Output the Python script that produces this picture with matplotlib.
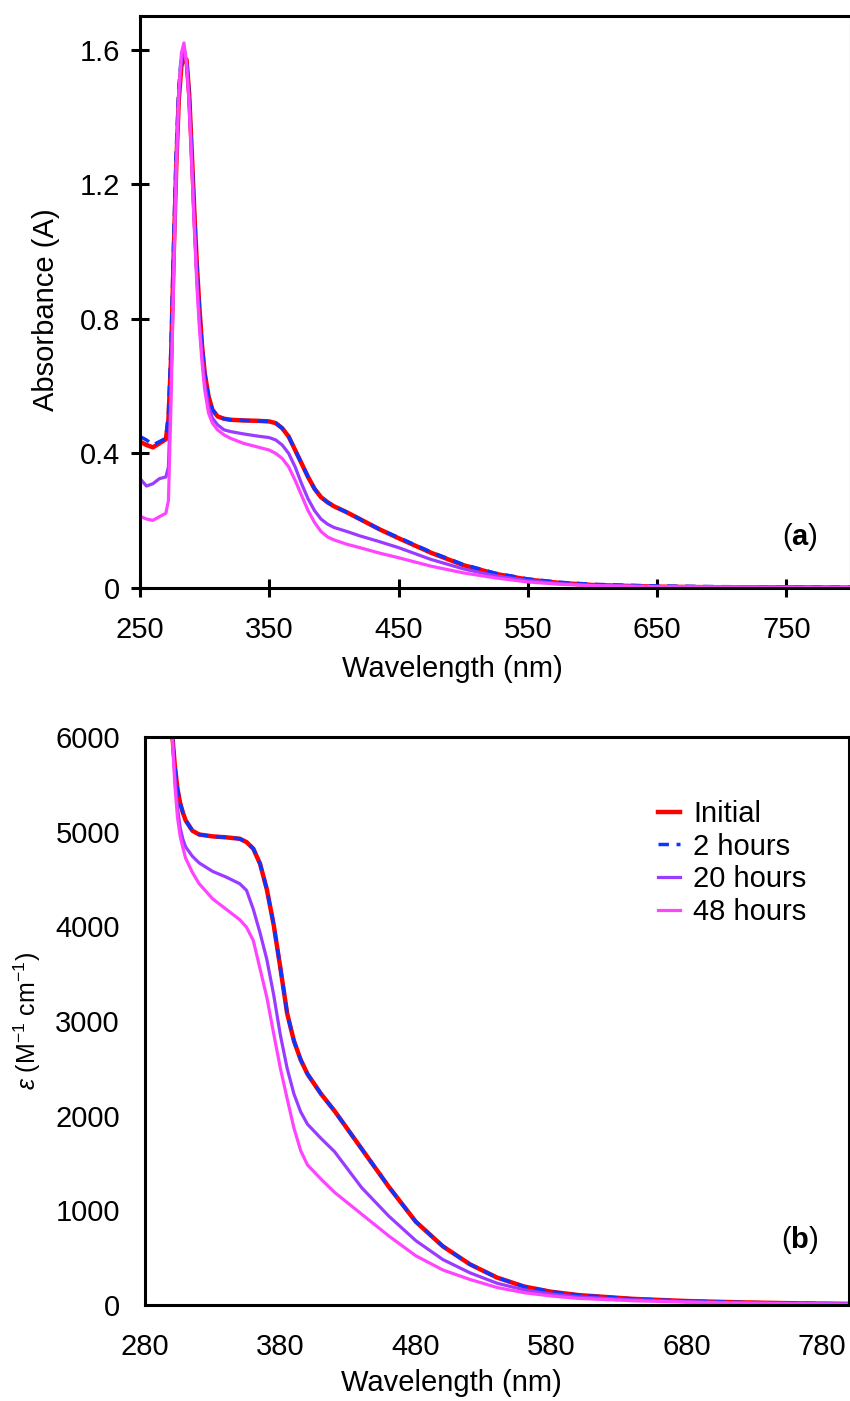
import matplotlib
matplotlib.use("Agg")
import matplotlib.pyplot as plt

plt.rcParams['font.family'] = ['Liberation Sans', 'DejaVu Sans']
plt.rcParams['mathtext.fontset'] = 'custom'
plt.rcParams['mathtext.rm'] = 'Liberation Sans'
plt.rcParams['mathtext.it'] = 'Liberation Sans:italic'
plt.rcParams['mathtext.bf'] = 'Liberation Sans:bold'

# ---------------- (a) absorbance spectra ----------------
wl_a = [250, 255, 260, 265, 270, 272, 274, 276, 278, 280, 282, 284, 286, 288,
        290, 292, 294, 296, 298, 300, 303, 306, 310, 315, 320, 330, 340, 350,
        355, 360, 365, 370, 375, 380, 385, 390, 395, 400, 410, 420, 435, 450,
        475, 500, 525, 550, 575, 600, 650, 700, 750, 800]

abs_initial = [0.435, 0.425, 0.418, 0.430, 0.442, 0.50, 0.68, 0.98, 1.25, 1.45,
               1.55, 1.58, 1.57, 1.47, 1.30, 1.12, 0.96, 0.83, 0.72, 0.64,
               0.57, 0.53, 0.51, 0.503, 0.500, 0.498, 0.497, 0.495, 0.490,
               0.475, 0.450, 0.410, 0.370, 0.330, 0.295, 0.270, 0.255, 0.243,
               0.225, 0.205, 0.175, 0.148, 0.105, 0.068, 0.042, 0.025, 0.015,
               0.009, 0.004, 0.002, 0.002, 0.001]

abs_2h = [0.450, 0.440, 0.425, 0.435, 0.445, 0.52, 0.72, 1.03, 1.30, 1.49,
          1.58, 1.60, 1.57, 1.47, 1.30, 1.12, 0.96, 0.83, 0.72, 0.64,
          0.57, 0.53, 0.51, 0.503, 0.500, 0.498, 0.497, 0.495, 0.490,
          0.475, 0.450, 0.410, 0.370, 0.330, 0.295, 0.270, 0.255, 0.243,
          0.225, 0.205, 0.175, 0.150, 0.107, 0.070, 0.044, 0.027, 0.017,
          0.011, 0.006, 0.004, 0.003, 0.003]

abs_20h = [0.325, 0.303, 0.310, 0.325, 0.330, 0.36, 0.60, 0.95, 1.25, 1.46,
           1.57, 1.60, 1.56, 1.45, 1.28, 1.09, 0.92, 0.79, 0.69, 0.61,
           0.54, 0.505, 0.485, 0.470, 0.465, 0.458, 0.452, 0.447, 0.440,
           0.425, 0.400, 0.360, 0.310, 0.265, 0.230, 0.205, 0.190, 0.180,
           0.168, 0.155, 0.138, 0.120, 0.085, 0.057, 0.036, 0.022, 0.013,
           0.008, 0.004, 0.003, 0.002, 0.002]

abs_48h = [0.213, 0.205, 0.201, 0.212, 0.222, 0.26, 0.55, 0.92, 1.24, 1.47,
           1.59, 1.62, 1.56, 1.44, 1.26, 1.07, 0.90, 0.77, 0.67, 0.59,
           0.52, 0.49, 0.47, 0.455, 0.445, 0.430, 0.420, 0.410, 0.400,
           0.385, 0.360, 0.320, 0.275, 0.230, 0.195, 0.168, 0.152, 0.143,
           0.130, 0.120, 0.104, 0.090, 0.065, 0.045, 0.030, 0.018, 0.011,
           0.007, 0.004, 0.003, 0.002, 0.002]

# ---------------- (b) molar absorptivity ----------------
wl_b = [300, 302, 304, 306, 308, 310, 315, 320, 330, 340, 350, 355, 360, 365,
        370, 375, 380, 385, 390, 395, 400, 410, 420, 440, 460, 480, 500, 520,
        540, 560, 580, 600, 640, 680, 720, 760, 800]

eps_initial = [6050, 5700, 5450, 5300, 5200, 5120, 5010, 4970, 4950, 4940,
               4925, 4890, 4820, 4660, 4390, 4020, 3560, 3080, 2790, 2590,
               2440, 2230, 2050, 1650, 1250, 880, 620, 430, 290, 195, 140,
               105, 65, 42, 28, 18, 12]

eps_2h = [6050, 5700, 5450, 5300, 5200, 5120, 5010, 4970, 4950, 4940,
          4925, 4890, 4820, 4660, 4390, 4020, 3560, 3080, 2790, 2590,
          2440, 2230, 2050, 1650, 1250, 880, 620, 430, 290, 195, 140,
          105, 65, 42, 28, 18, 12]

eps_20h = [6050, 5600, 5250, 5040, 4920, 4840, 4740, 4670, 4580, 4520,
           4450, 4380, 4180, 3930, 3650, 3280, 2850, 2500, 2230, 2040,
           1910, 1760, 1620, 1240, 940, 680, 480, 340, 230, 160, 115,
           85, 55, 35, 24, 16, 10]

eps_48h = [6050, 5500, 5150, 4950, 4830, 4720, 4570, 4450, 4290, 4180,
           4070, 3990, 3850, 3550, 3250, 2870, 2500, 2180, 1870, 1630,
           1480, 1330, 1190, 960, 730, 520, 370, 270, 185, 130, 95,
           70, 45, 30, 20, 14, 9]

labels = ['Initial', '2 hours', '20 hours', '48 hours']
colors = ['#FF0000', '#0A36FF', '#9B3BFF', '#FF44FF']

xticks_a = [250, 350, 450, 550, 650, 750]
yticks_a = [0, 0.4, 0.8, 1.2, 1.6]
yticklabels_a = ['0', '0.4', '0.8', '1.2', '1.6']
xticks_b = [280, 380, 480, 580, 680, 780]
yticks_b = [0, 1000, 2000, 3000, 4000, 5000, 6000]

FS = 21
W, H = 850, 1401
fig = plt.figure(figsize=(W / 100, H / 100), dpi=100)

ax_a = fig.add_axes([140 / W, 1 - 588 / H, 711 / W, 572 / H])
ax_b = fig.add_axes([145 / W, 1 - 1305 / H, 704 / W, 568 / H])


def draw_series(ax, x, series):
    widths = [3.2, 2.5, 2.3, 2.3]
    for y, lab, col, lw in zip(series, labels, colors, widths):
        if lab == '2 hours':
            ax.plot(x, y, color=col, lw=lw, ls=(0, (3.0, 2.2)), label=lab,
                    dash_capstyle='butt')
        else:
            ax.plot(x, y, color=col, lw=lw, label=lab)


draw_series(ax_a, wl_a, [abs_initial, abs_2h, abs_20h, abs_48h])
draw_series(ax_b, wl_b, [eps_initial, eps_2h, eps_20h, eps_48h])

# panel (a) axes
ax_a.set_xlim(250, 800)
ax_a.set_ylim(0, 1.7)
ax_a.set_xticks(xticks_a)
ax_a.set_yticks(yticks_a)
ax_a.set_yticklabels(yticklabels_a)
ax_a.tick_params(axis='both', direction='inout', length=13, width=2.2,
                 labelsize=FS)
ax_a.tick_params(axis='x', pad=14)
ax_a.tick_params(axis='y', pad=8)
ax_a.set_xlabel('Wavelength (nm)', fontsize=FS)
ax_a.set_ylabel('Absorbance (A)', fontsize=FS)
ax_a.xaxis.set_label_coords((452 - 140) / 711, -0.117)
ax_a.yaxis.set_label_coords(-0.113, 0.486)
ax_a.text(0.928, 0.09, r'($\mathbf{a}$)', transform=ax_a.transAxes,
          fontsize=FS, ha='center', va='center')

# panel (b) axes
ax_b.set_xlim(280, 800)
ax_b.set_ylim(0, 6000)
ax_b.set_xticks(xticks_b)
ax_b.set_yticks(yticks_b)
ax_b.tick_params(axis='both', length=0, labelsize=FS)
ax_b.tick_params(axis='y', pad=18)
ax_b.tick_params(axis='x', pad=20)
ax_b.set_xlabel('Wavelength (nm)', fontsize=FS)
ax_b.set_ylabel(r'$\mathit{ε}$ (M$^{-1}$ cm$^{-1}$)', fontsize=18)
ax_b.xaxis.set_label_coords((451 - 145) / 704, -0.113)
ax_b.yaxis.set_label_coords((43 - 145) / 704, 0.50)
ax_b.text(0.93, 0.114, r'($\mathbf{b}$)', transform=ax_b.transAxes,
          fontsize=FS, ha='center', va='center')
ax_b.legend(loc='upper left', bbox_to_anchor=((658 - 145) / 704, (1305 - 800) / 568),
            frameon=False, fontsize=FS, handlelength=0.75, handletextpad=0.45,
            labelspacing=0.16, borderaxespad=0.0, borderpad=0.0)

for ax in (ax_a, ax_b):
    for sp in ax.spines.values():
        sp.set_linewidth(2.2)
        sp.set_color('black')

fig.savefig('out.png', dpi=100)
